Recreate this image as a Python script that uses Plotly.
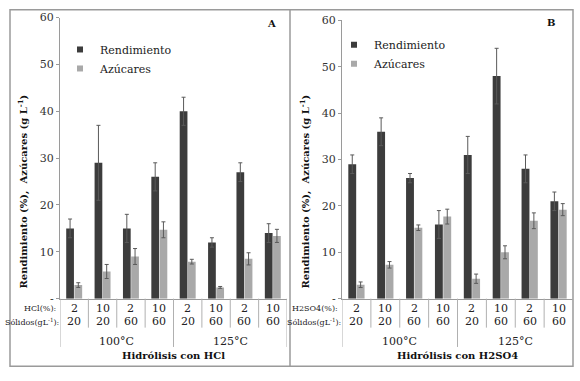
import plotly.graph_objects as go

W, H = 580, 381

# ---------------- data ----------------
cats = list(range(8))
acid_pct = ["2", "10", "2", "10", "2", "10", "2", "10"]
solids = ["20", "20", "60", "60", "20", "60", "60", "60"]
temps = ["100°C", "125°C"]
yticks = [0, 10, 20, 30, 40, 50, 60]
yticktext = ["-", "10", "20", "30", "40", "50", "60"]

a_rend = [15, 29, 15, 26, 40, 12, 27, 14]
a_rend_err = [2, 8, 3, 3, 3, 1, 2, 2]
a_azu = [2.9, 5.8, 9.0, 14.7, 7.9, 2.4, 8.5, 13.4]
a_azu_err = [0.5, 1.5, 1.7, 1.7, 0.5, 0.2, 1.3, 1.4]

b_rend = [29, 36, 26, 16, 31, 48, 28, 21]
b_rend_err = [2, 3, 1, 3, 4, 6, 3, 2]
b_azu = [3.0, 7.3, 15.3, 17.7, 4.3, 10.0, 16.8, 19.2]
b_azu_err = [0.6, 0.7, 0.6, 1.6, 1.0, 1.4, 1.7, 1.3]

DARK = "#3c3c3c"
LIGHT = "#a9a9a9"
ERR = "#5a5a5a"
FONT = "DejaVu Serif"

def px(x):
    return x / W

def py(y):
    return 1 - y / H

fig = go.Figure()

def add_bars(xa, ya, rend, rerr, azu, aerr, leg):
    fig.add_trace(go.Bar(x=cats, y=rend, name="Rendimiento", marker_color=DARK,
                         marker_line_width=0, xaxis=xa, yaxis=ya, showlegend=False,
                         error_y=dict(type="data", array=rerr, color=ERR, thickness=1, width=2)))
    fig.add_trace(go.Bar(x=cats, y=azu, name="Azúcares", marker_color=LIGHT,
                         marker_line_width=0, xaxis=xa, yaxis=ya, showlegend=False,
                         error_y=dict(type="data", array=aerr, color=ERR, thickness=1, width=2)))
    for nm, col in (("Rendimiento", DARK), ("Azúcares", LIGHT)):
        fig.add_trace(go.Scatter(x=[None], y=[None], mode="markers", name=nm,
                                 marker=dict(symbol="square", size=6, color=col),
                                 xaxis=xa, yaxis=ya, legend=leg))

add_bars("x", "y", a_rend, a_rend_err, a_azu, a_azu_err, "legend")
add_bars("x2", "y2", b_rend, b_rend_err, b_azu, b_azu_err, "legend2")

xa_common = dict(range=[-0.5, 7.5], showticklabels=False, ticks="", showgrid=False,
                 zeroline=False, showline=True, linecolor="#9a9a9a", linewidth=1)
ya_common = dict(range=[0, 60], tickvals=yticks, ticktext=yticktext, showgrid=False,
                 zeroline=False, showline=True, linecolor="#9a9a9a", linewidth=1,
                 ticks="outside", ticklen=3, tickcolor="#9a9a9a",
                 tickfont=dict(family=FONT, size=11, color="#333"))

leg_common = dict(xanchor="left", yanchor="top", bgcolor="rgba(0,0,0,0)",
                  font=dict(family=FONT, size=11, color="#222"),
                  itemwidth=30, tracegroupgap=0)

fig.update_layout(
    width=W, height=H, margin=dict(l=0, r=0, t=0, b=0),
    paper_bgcolor="white", plot_bgcolor="white",
    barmode="group", bargap=0.42, bargroupgap=0.06,
    xaxis=dict(domain=[px(60), px(287)], anchor="y", **xa_common),
    yaxis=dict(domain=[py(303), py(12)], anchor="x", **ya_common),
    xaxis2=dict(domain=[px(342), px(573)], anchor="y2", **xa_common),
    yaxis2=dict(domain=[py(303), py(15)], anchor="x2", **ya_common),
    legend=dict(x=px(60), y=py(30), **leg_common),
    legend2=dict(x=px(334), y=py(25), **leg_common),
    showlegend=True,
)

shapes = []
annots = []

shapes.append(dict(type="rect", xref="paper", yref="paper", x0=px(10), x1=px(573),
                   y0=py(373), y1=py(4), line=dict(color="#9a9a9a", width=1.5)))
shapes.append(dict(type="line", xref="paper", yref="paper", x0=px(290), x1=px(290),
                   y0=py(373), y1=py(4), line=dict(color="#9a9a9a", width=1.5)))

def ann(**kw):
    kw.setdefault("xanchor", "center")
    kw.setdefault("yanchor", "middle")
    kw.setdefault("showarrow", False)
    annots.append(kw)

def table(xr, acid_label, title, letter, letter_pos, ytitle_x):
    for i in range(9):
        b = i - 0.5
        long = i in (0, 4, 8)
        shapes.append(dict(type="line", xref=xr, yref="paper", x0=b, x1=b,
                           y0=py(303), y1=py(353 if long else 333),
                           line=dict(color="#b0b0b0", width=1)))
    for i in cats:
        ann(x=i, y=py(313), xref=xr, yref="paper", text=acid_pct[i],
            font=dict(family=FONT, size=11, color="#222"))
        ann(x=i, y=py(327), xref=xr, yref="paper", text=solids[i],
            font=dict(family=FONT, size=11, color="#222"))
    for k, t in enumerate(temps):
        ann(x=1.5 + 4 * k, y=py(347), xref=xr, yref="paper", text=t,
            font=dict(family=FONT, size=11, color="#222"))
    ann(x=3.5, y=py(362), xref=xr, yref="paper", text=f"<b>{title}</b>",
        font=dict(family=FONT, size=10, color="#111"))
    ann(x=-0.5, y=py(313), xref=xr, yref="paper", text=acid_label,
        xanchor="right", xshift=-2, font=dict(family=FONT, size=8, color="#222"))
    ann(x=-0.5, y=py(327), xref=xr, yref="paper", text="Sólidos(gL<sup>-1</sup>):",
        xanchor="right", xshift=1, font=dict(family=FONT, size=8, color="#222"))
    ann(x=px(letter_pos[0]), y=py(letter_pos[1]), xref="paper", yref="paper",
        text=f"<b>{letter}</b>", font=dict(family=FONT, size=10, color="#111"))
    ann(x=px(ytitle_x), y=py(192), xref="paper", yref="paper", textangle=-90,
        text="<b>Rendimiento (%),  Azúcares (g L<sup>-1</sup>)</b>",
        font=dict(family=FONT, size=10, color="#111"))

table("x", "HCl(%):", "Hidrólisis con HCl", "A", (271, 18), 23)
table("x2", "H2SO4(%):", "Hidrólisis con H2SO4", "B", (551, 17), 305)

fig.update_layout(shapes=shapes, annotations=annots)
fig.write_html("out.html", config={"displayModeBar": False},
               post_script="document.body.style.margin='0';document.body.style.overflow='hidden';")
